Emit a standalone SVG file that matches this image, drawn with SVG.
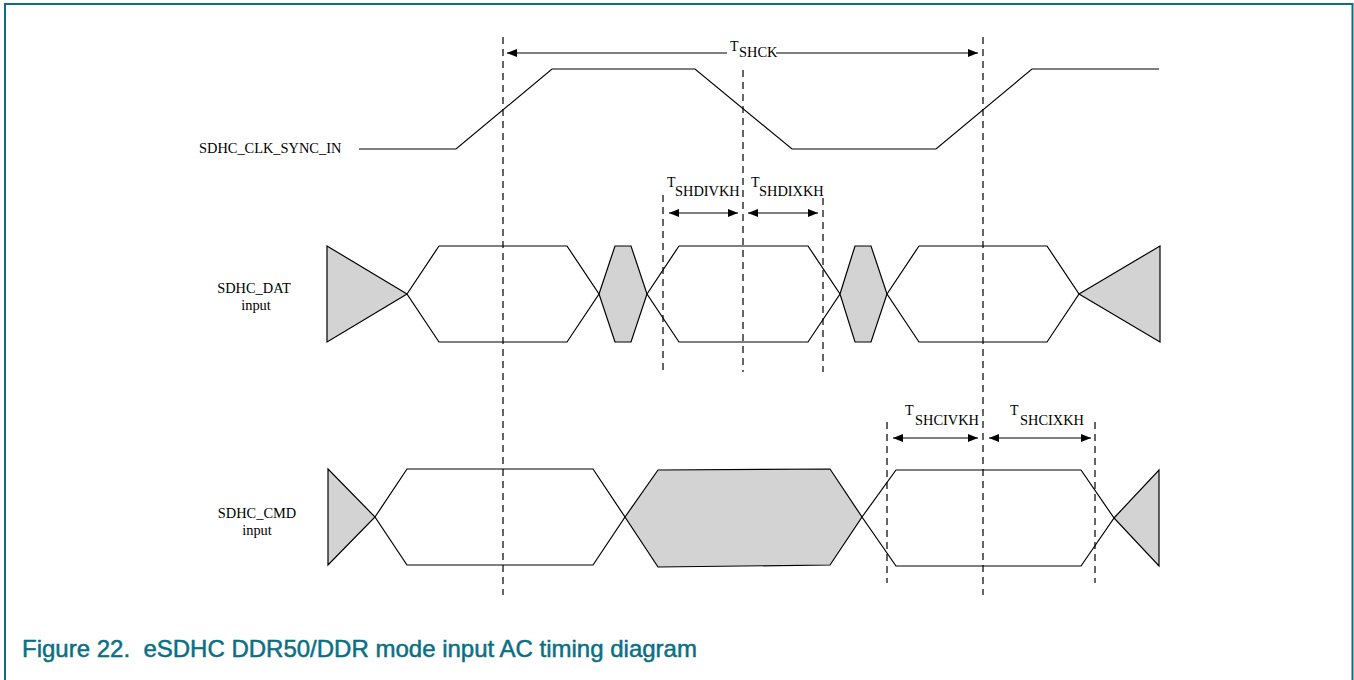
<svg xmlns="http://www.w3.org/2000/svg" width="1354" height="680" viewBox="0 0 1354 680">
<defs>
<marker id="ah" viewBox="0 0 10 8" refX="10" refY="4" markerWidth="10" markerHeight="8" markerUnits="userSpaceOnUse" orient="auto-start-reverse">
<path d="M0,0 L10,4 L0,8 Z" fill="#000"/>
</marker>
</defs>
<style>
.sig{fill:none;stroke:#000;stroke-width:1.2}
.eye{fill:#fff;stroke:#000;stroke-width:1.2;stroke-linejoin:miter}
.gray{fill:#d3d3d3;stroke:#000;stroke-width:1.2}
.dash{fill:none;stroke:#000;stroke-width:1.2;stroke-dasharray:7,5}
.arr{fill:none;stroke:#000;stroke-width:1.2}
.lbl{font-family:"Liberation Serif","Times New Roman",serif;font-size:14.4px;fill:#000}
.t{font-family:"Liberation Serif","Times New Roman",serif;font-size:14px;fill:#000}
.cap{font-family:"Liberation Sans",Arial,sans-serif;font-size:24px;fill:#0a6f84;stroke:#0a6f84;stroke-width:0.5}
</style>
<rect x="5" y="4" width="1347.5" height="700" fill="#fff" stroke="#0a6f84" stroke-width="2"/>

<g id="clk">
<text class="lbl" x="199" y="153">SDHC_CLK_SYNC_IN</text>
<path class="sig" d="M359,149 H456 L552,69 H695 L792,149 H936 L1032,69 H1159"/>
</g>

<g id="dat">
<text class="lbl" x="254" y="293" text-anchor="middle">SDHC_DAT</text>
<text class="lbl" x="256" y="310" text-anchor="middle">input</text>
<polygon class="gray" points="327,246 407,294 327,342"/>
<polygon class="eye" points="407,294 439,246 567,246 599,294 567,342 439,342"/>
<polygon class="gray" points="599,294 615,246 631,246 647,294 631,342 615,342"/>
<polygon class="eye" points="647,294 679,246 808,246 840,294 808,342 679,342"/>
<polygon class="gray" points="840,294 855,246 871,246 887,294 871,342 855,342"/>
<polygon class="eye" points="887,294 919,246 1047,246 1079,294 1047,342 919,342"/>
<polygon class="gray" points="1079,294 1160,246 1160,342"/>
</g>

<g id="cmd">
<text class="lbl" x="257" y="518" text-anchor="middle">SDHC_CMD</text>
<text class="lbl" x="257" y="535" text-anchor="middle">input</text>
<polygon class="gray" points="328,469 375,517 328,565"/>
<polygon class="eye" points="375,517 407,469 593,469 625,517 593,565 407,565"/>
<polygon class="gray" points="625,517 658,470 830,469 862,517 830,565 658,567"/>
<polygon class="eye" points="862,517 896,470 1081,470 1114,518 1081,566 896,566"/>
<polygon class="gray" points="1114,518 1159,470 1159,566"/>
</g>

<g id="connectors">
<line class="dash" x1="503" y1="37" x2="503" y2="595"/>
<line class="dash" x1="983" y1="37" x2="983" y2="595"/>
<line class="dash" x1="743" y1="70" x2="743" y2="372"/>
<line class="dash" x1="663" y1="195" x2="663" y2="372"/>
<line class="dash" x1="823" y1="198" x2="823" y2="372"/>
<line class="dash" x1="887" y1="422" x2="887" y2="583"/>
<line class="dash" x1="1095" y1="422" x2="1095" y2="583"/>

<line class="arr" x1="727" y1="53" x2="507" y2="53" marker-end="url(#ah)"/>
<line class="arr" x1="776" y1="53" x2="978" y2="53" marker-end="url(#ah)"/>
<line class="arr" x1="669" y1="213" x2="738" y2="213" marker-start="url(#ah)" marker-end="url(#ah)"/>
<line class="arr" x1="748" y1="213" x2="818" y2="213" marker-start="url(#ah)" marker-end="url(#ah)"/>
<line class="arr" x1="893" y1="438" x2="978" y2="438" marker-start="url(#ah)" marker-end="url(#ah)"/>
<line class="arr" x1="989" y1="438" x2="1091" y2="438" marker-start="url(#ah)" marker-end="url(#ah)"/>
</g>

<g id="labels">
<text class="t" x="730" y="51">T</text><text class="lbl" x="739" y="57">SHCK</text>
<text class="t" x="667" y="187">T</text><text class="lbl" x="675" y="196">SHDIVKH</text>
<text class="t" x="751" y="187">T</text><text class="lbl" x="759" y="196">SHDIXKH</text>
<text class="t" x="905" y="415">T</text><text class="lbl" x="915" y="425">SHCIVKH</text>
<text class="t" x="1010" y="415">T</text><text class="lbl" x="1020" y="425">SHCIXKH</text>
</g>

<text class="cap" x="22" y="657" xml:space="preserve">Figure 22.  eSDHC DDR50/DDR mode input AC timing diagram</text>
</svg>
